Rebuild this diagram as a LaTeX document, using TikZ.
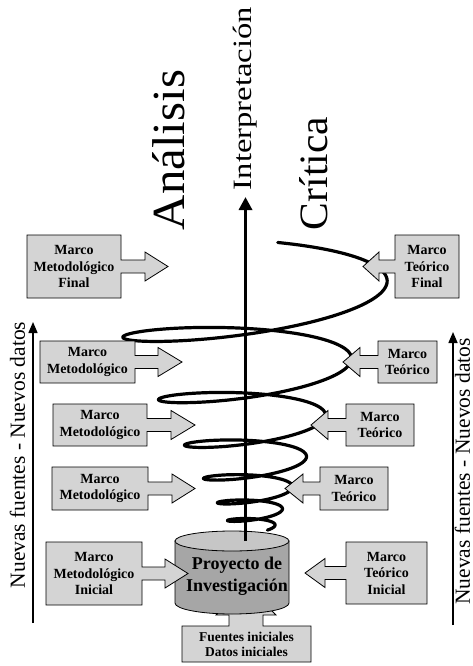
\documentclass[tikz,border=0pt]{standalone}
\usepackage{fontspec}
\setmainfont{Liberation Serif}
\usetikzlibrary{arrows.meta}

\definecolor{boxfill}{RGB}{212,212,212}
\definecolor{cylbody}{RGB}{166,166,166}
\definecolor{cyltop}{RGB}{198,198,198}

\tikzset{
  calloutbox/.style={draw=black, line width=0.8pt, fill=boxfill, line join=miter},
  boxtext/.style={font=\fontsize{14}{16.5}\selectfont\bfseries, align=center, inner sep=0pt},
  bigword/.style={rotate=90, inner sep=0pt},
  sidearrow/.style={line width=1.5pt, -{Triangle[width=9pt,length=11pt]}},
  axisarrow/.style={line width=3.2pt, -{Triangle[width=13pt,length=13pt]}},
  helix/.style={line width=3.2pt, line cap=round, line join=round},
  declare function={
    helixarg(\t)=\t+pi/2*(cos(\t r)-1);
    helixrad(\t)=132*exp(-0.05*helixarg(\t));
    helixycen(\t)=568.6-279*exp(-0.05*\t);
  }
}

% Box with a block arrow on its right side
% #1 name, #2 left x, #3 right x, #4 top y, #5 bottom y, #6 head base x, #7 tip x, #8 text
\newcommand\calloutToRight[8]{%
  \pgfmathsetmacro\calY{(#4+#5)/2}%
  \draw[calloutbox] (#2,#4) -- (#3,#4) -- (#3,\calY-6.5) -- (#6,\calY-6.5)
    -- (#6,\calY-14.5) -- (#7,\calY) -- (#6,\calY+14.5) -- (#6,\calY+6.5)
    -- (#3,\calY+6.5) -- (#3,#5) -- (#2,#5) -- cycle;
  \node[boxtext] (#1) at ({(#2+#3)/2},\calY) {#8};
}
% Box with a block arrow on its left side
\newcommand\calloutToLeft[8]{%
  \pgfmathsetmacro\calY{(#4+#5)/2}%
  \draw[calloutbox] (#3,#4) -- (#2,#4) -- (#2,\calY-6.5) -- (#6,\calY-6.5)
    -- (#6,\calY-14.5) -- (#7,\calY) -- (#6,\calY+14.5) -- (#6,\calY+6.5)
    -- (#2,\calY+6.5) -- (#2,#5) -- (#3,#5) -- cycle;
  \node[boxtext] (#1) at ({(#2+#3)/2},\calY) {#8};
}

\begin{document}
\begin{tikzpicture}[x=1pt, y=-1pt]
\useasboundingbox (0,0) rectangle (473,666);
\fill[white] (0,0) rectangle (473,666);

% initial sources box with its arrow into the project
\draw[calloutbox] (182,626) -- (229,626) -- (229,615) -- (216,615) -- (246,585)
  -- (276,615) -- (263,615) -- (263,626) -- (311,626) -- (311,662) -- (182,662) -- cycle;
\node[font=\fontsize{13.5}{15}\selectfont\bfseries, align=center, inner sep=0pt]
  (fuentes) at (246.5,644) {Fuentes iniciales\\Datos iniciales};

% project cylinder
\draw[line width=0.8pt, fill=cylbody] (175,541) -- (175,603)
  arc[start angle=180, end angle=0, x radius=57, y radius=11] -- (289,541) -- cycle;
\draw[line width=0.8pt, fill=cyltop] (232,541) ellipse[x radius=57, y radius=10];
\node[font=\fontsize{18}{22}\selectfont\bfseries, align=center, inner sep=0pt]
  (proyecto) at (237,576) {Proyecto de\\Investigación};

% central axis
\coordinate (axbase) at (245.5,541);
\coordinate (axtip) at (245.5,197);
\draw[axisarrow] (axbase) -- (axtip);

% widening helix
\draw[helix] plot[domain=-1.42:38.6, samples=800, variable=\x]
  ({255+helixrad(\x)*cos(\x r)},
   {helixycen(\x)+0.17*helixrad(\x)*sin(\x r)-0.05*helixrad(\x)*cos(\x r)});

% methodological frames
\calloutToRight{mmfin}{27}{121}{235}{298}{145}{168}{Marco\\Metodológico\\Final}
\calloutToRight{mmA}{40}{135}{341}{383}{158}{182}{Marco\\Metodológico}
\calloutToRight{mmB}{53}{147}{404}{446}{171}{195}{Marco\\Metodológico}
\calloutToRight{mmC}{52}{148}{467}{510}{172}{195}{Marco\\Metodológico}
\calloutToRight{mmini}{46}{142}{542}{605}{165}{188}{Marco\\Metodológico\\Inicial}

% theoretical frames
\calloutToLeft{mtfin}{395}{459}{235}{298}{379}{363}{Marco\\Teórico\\Final}
\calloutToLeft{mtA}{378}{437}{341}{383}{360}{343}{Marco\\Teórico}
\calloutToLeft{mtB}{346}{414}{404}{446}{328}{311}{Marco\\Teórico}
\calloutToLeft{mtC}{320}{388}{467}{510}{303}{285}{Marco\\Teórico}
\calloutToLeft{mtini}{346}{427}{542}{604}{325}{305}{Marco\\Teórico\\Inicial}

% headings along the top
\node[bigword] (analisis) at (169,150) {\resizebox{160pt}{32pt}{Análisis}};
\node[bigword] (interp) at (245,98.5) {\resizebox*{183pt}{24pt}{Interpretación}};
\node[bigword] (critica) at (314,173.5) {\resizebox{113pt}{28pt}{Crítica}};

% side arrows: new sources, new data
\coordinate (lbot) at (33,623);
\coordinate (ltop) at (33,322);
\draw[sidearrow] (lbot) -- (ltop);
\node[bigword] (leftlabel) at (17.5,455)
  {\fontsize{21.5}{24}\selectfont Nuevas fuentes - Nuevos datos};

\coordinate (rbot) at (453,625);
\coordinate (rtop) at (453,332);
\draw[sidearrow] (rbot) -- (rtop);
\node[bigword] (rightlabel) at (462.5,471.5)
  {\fontsize{21.5}{24}\selectfont Nuevas fuentes - Nuevos datos};
\end{tikzpicture}
\end{document}
